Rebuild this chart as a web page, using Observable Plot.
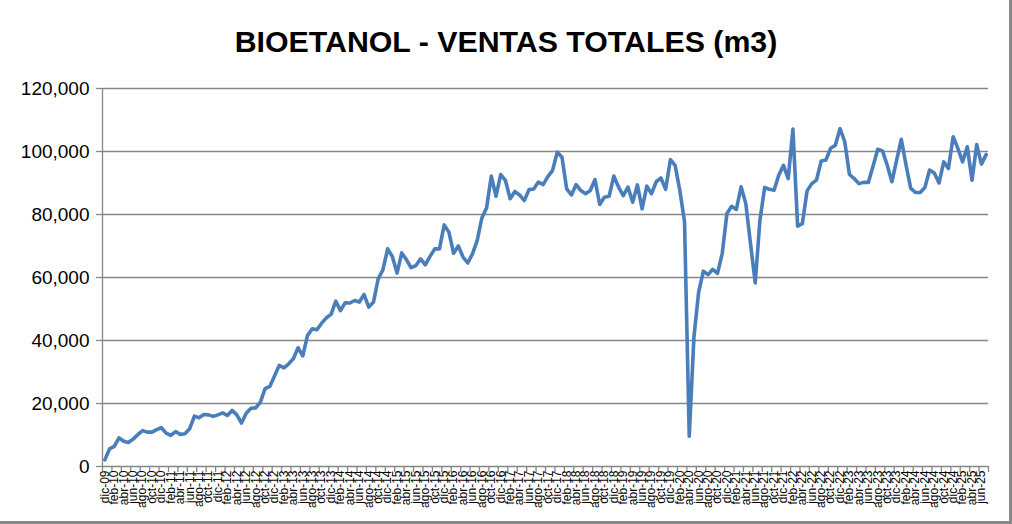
<!DOCTYPE html>
<html>
<head>
<meta charset="utf-8">
<script src="https://cdn.jsdelivr.net/npm/d3@7"></script>
<script src="https://cdn.jsdelivr.net/npm/@observablehq/plot@0.6"></script>
<style>
  html, body { margin: 0; padding: 0; background: #fff; }
  #chart { position: relative; width: 1012px; height: 524px; overflow: hidden; background: #fff; }
  #title { position: absolute; left: 0; top: 22px; width: 1012px; text-align: center;
           font-family: "Liberation Sans", Arial, sans-serif; font-weight: bold; font-size: 30.3px;
           line-height: 40px; color: #000; }
  #border { position: absolute; left: 0; top: 0; width: 1009px; height: 521px;
            border-right: 3px solid #898989; border-bottom: 3px solid #898989; pointer-events: none; }
  #chart svg { position: absolute; left: 0; top: 0; }
</style>
</head>
<body>
<div id="chart">
  <div id="title">BIOETANOL - VENTAS TOTALES (m3)</div>
  <div id="border"></div>
</div>
<script>
// Categorías mensuales: dic-09 … jul-25
const monthNames = ["ene","feb","mar","abr","may","jun","jul","ago","sep","oct","nov","dic"];
const startMonth = 11, startYear = 2009, nMonths = 188;
const categories = [];
for (let k = 0; k < nMonths; k++) {
  const m = (startMonth + k) % 12;
  const y = startYear + Math.floor((startMonth + k) / 12);
  categories.push(monthNames[m] + "-" + String(y % 100).padStart(2, "0"));
}

// Ventas totales de bioetanol (m3)
const ventas = [
  2100, 5600, 6400, 9100, 8000, 7600, 8700, 10100, 11400, 10900,
  10900, 11700, 12300, 10600, 9900, 11100, 10200, 10400, 12000, 16000,
  15500, 16500, 16400, 15900, 16400, 17000, 16200, 17800, 16400, 13800,
  16900, 18500, 18600, 20400, 24700, 25400, 28700, 32100, 31300, 32600,
  34200, 37700, 35100, 41600, 43700, 43400, 45500, 47200, 48300, 52500,
  49500, 52000, 51900, 52700, 52200, 54600, 50600, 52200, 59600, 62400,
  69100, 66700, 61400, 67800, 65600, 63100, 63800, 65900, 64000, 66700,
  69100, 69100, 76700, 74400, 67700, 70000, 66500, 64600, 67500, 71700,
  78900, 82100, 92200, 85800, 92700, 90800, 85000, 87300, 86200, 84400,
  87900, 88100, 90300, 89500, 92000, 94000, 99800, 98200, 88100, 86200,
  89500, 87600, 86600, 87600, 91100, 83200, 85500, 85800, 92200, 88700,
  86000, 88700, 83900, 89400, 81800, 89000, 86600, 90400, 91600, 88000,
  97400, 95600, 87700, 77700, 9600, 41200, 55400, 62000, 60900, 62600,
  61300, 67600, 80300, 82600, 81600, 88800, 83500, 70800, 58300, 78200,
  88600, 88000, 87700, 92500, 95600, 91400, 107100, 76300, 77100, 87500,
  89800, 90900, 97000, 97300, 101000, 102000, 107300, 103100, 92700, 91400,
  89800, 90200, 90200, 95300, 100700, 100200, 95700, 90400, 97200, 103900,
  95700, 88300, 87000, 87000, 88600, 94100, 93200, 90000, 96700, 94600,
  104700, 101000, 96700, 101500, 90900, 102200, 96000, 99000
];

const yTicks = [0, 20000, 40000, 60000, 80000, 100000, 120000];

const data = ventas.map((v, i) => ({i, v}));
const labelIdx = categories.map((_, i) => i).filter(i => i % 2 === 0);
const tickBounds = d3.range(-0.5, categories.length, 2);
const xDomain = [-0.5, categories.length - 0.5];

const chart = Plot.plot({
  width: 1012,
  height: 524,
  marginTop: 88,
  marginBottom: 58,
  marginLeft: 102,
  marginRight: 24,
  style: { fontFamily: "'Liberation Sans', Arial, sans-serif", background: "transparent", color: "#000" },
  x: { type: "linear", domain: xDomain, axis: null, label: null },
  y: { domain: [0, 120000], axis: null, label: null },
  marks: [
    Plot.gridY(yTicks, { stroke: "#868686", strokeOpacity: 1, strokeWidth: 1.3 }),
    Plot.ruleX([xDomain[0]], { stroke: "#868686", strokeWidth: 1.3 }),
    Plot.axisY(yTicks, {
      label: null, tickSize: 6, tickPadding: 7, stroke: "#868686", strokeWidth: 1.3,
      tickFormat: d3.format(","), fontSize: 19, fill: "#000"
    }),
    Plot.axisX(tickBounds, {
      label: null, tickSize: 6, stroke: "#868686", strokeWidth: 1.3, tickFormat: () => ""
    }),
    Plot.axisX(labelIdx, {
      label: null, tickSize: 0, tickPadding: 4, tickRotate: -90, fontSize: 12, fill: "#000",
      tickFormat: i => categories[i]
    }),
    Plot.line(data, {
      x: "i", y: "v", stroke: "#4a7ebb", strokeWidth: 3.6,
      strokeLinejoin: "round", strokeLinecap: "round"
    })
  ]
});

document.getElementById("chart").insertBefore(chart, document.getElementById("border"));
</script>
</body>
</html>
